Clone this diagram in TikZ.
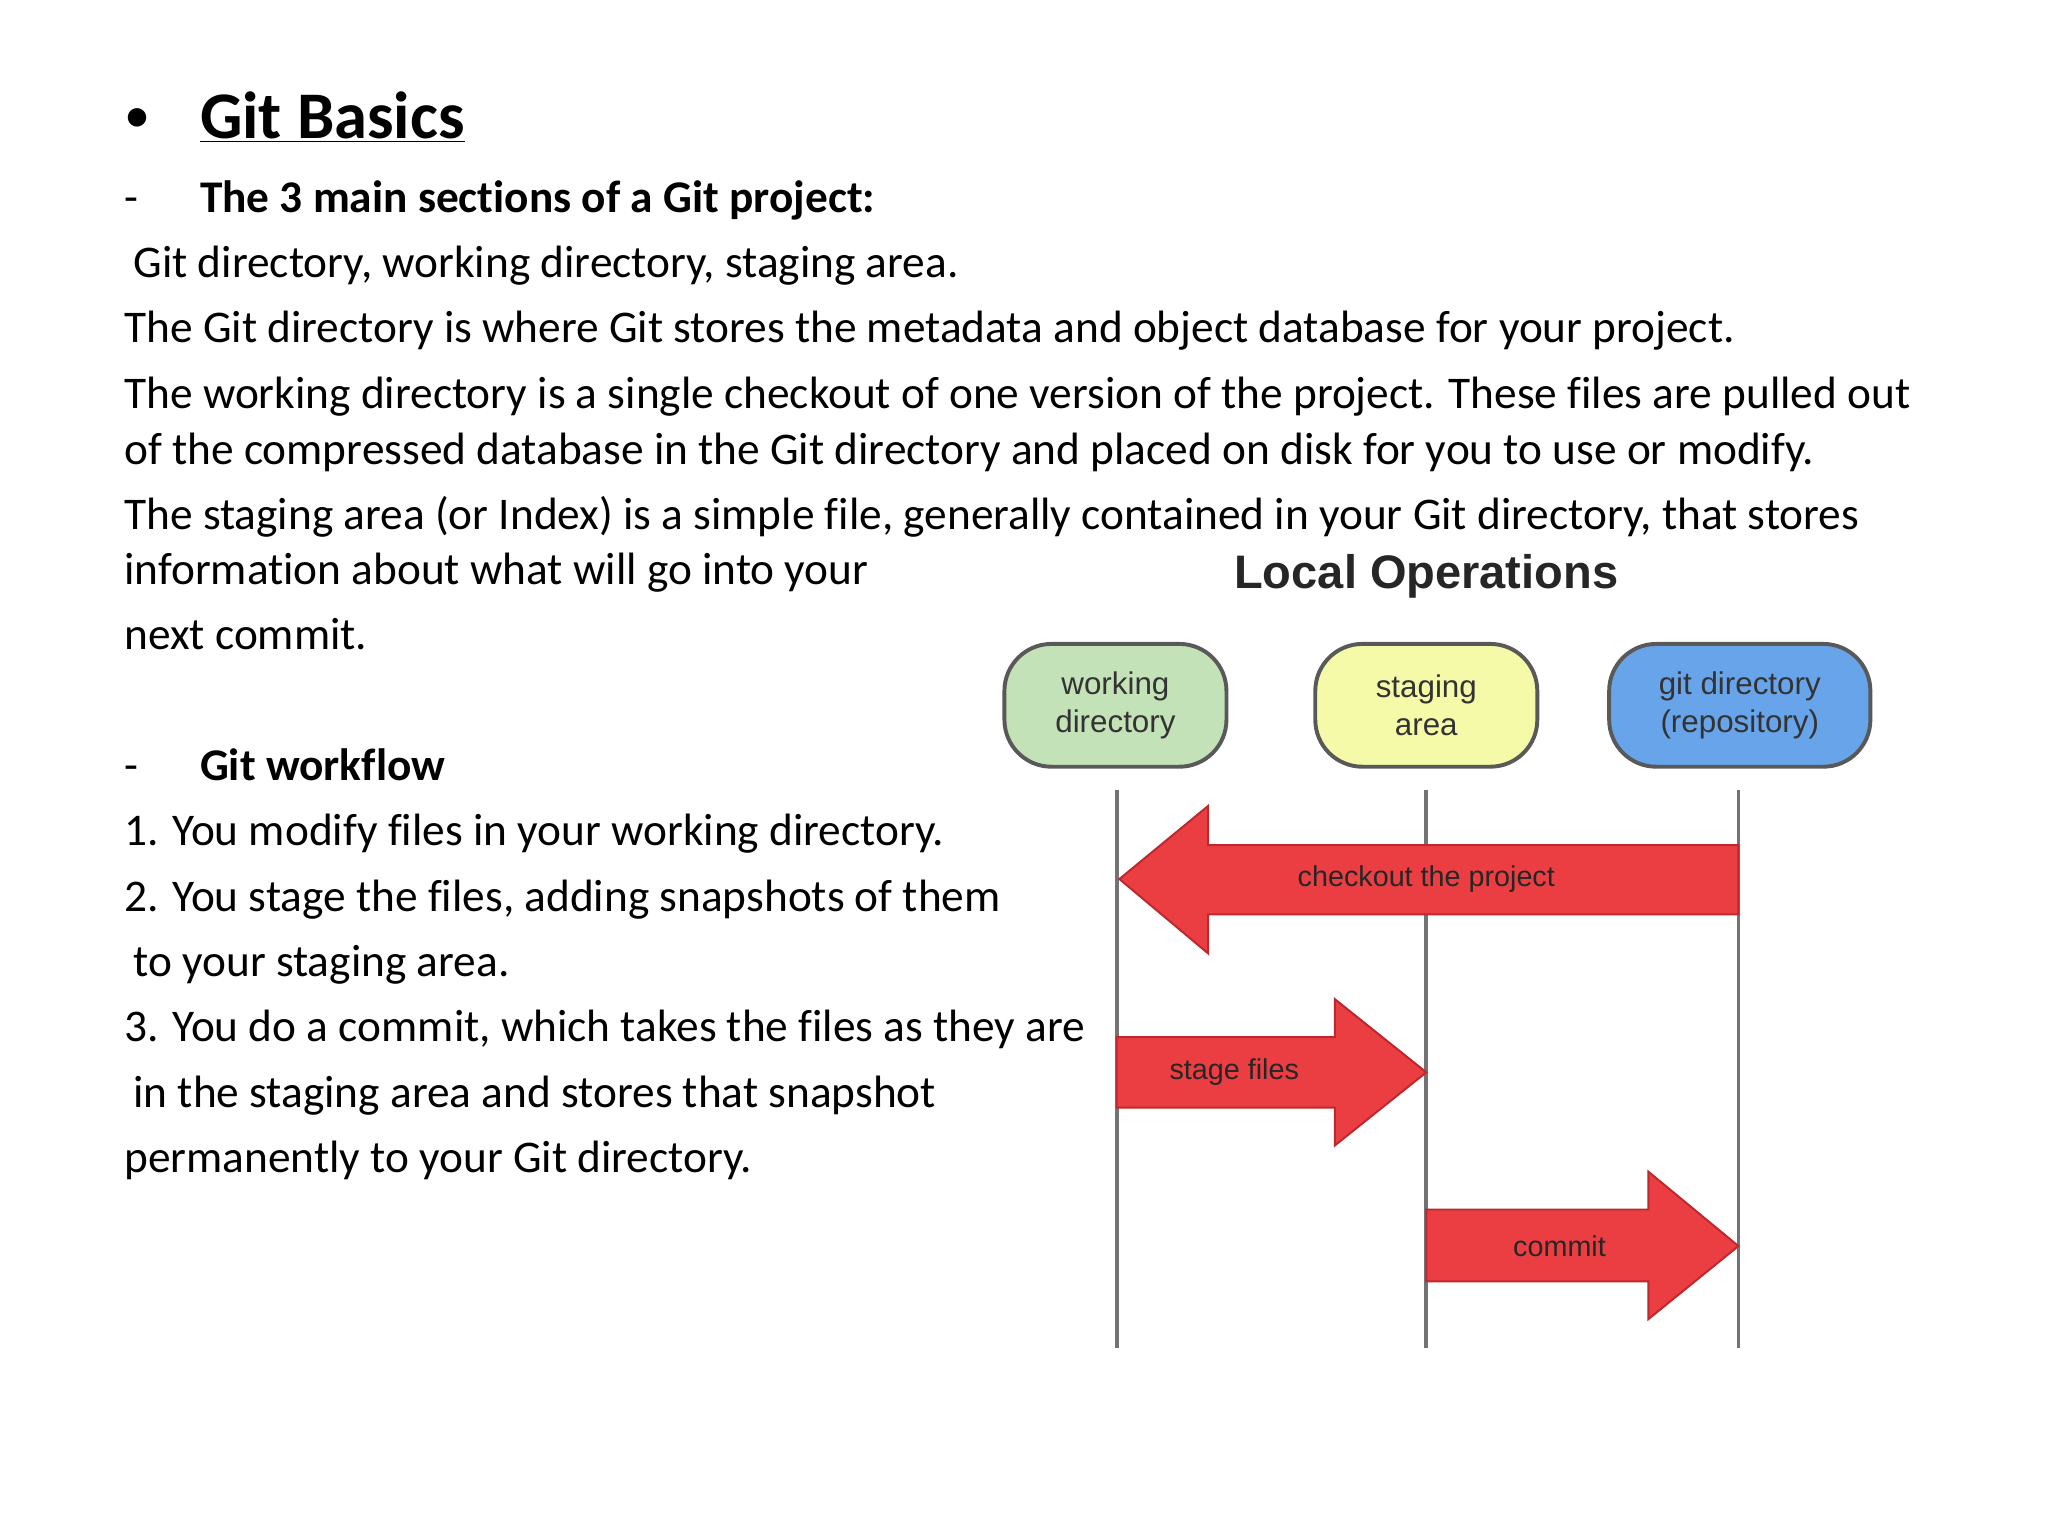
\documentclass[tikz,border=0pt]{standalone}
\usepackage{fontspec}
\setmainfont[Ligatures=NoCommon]{Carlito}
\newfontfamily\hel{Liberation Sans}
\begin{document}
\begin{tikzpicture}[x=1pt,y=-1pt,
  body/.style={anchor=west,inner sep=0pt,font=\fontsize{34.7}{38}\selectfont,execute at begin node=\strut},
  bbody/.style={anchor=west,inner sep=0pt,font=\bfseries\fontsize{34.7}{38}\selectfont,execute at begin node=\strut},
  box/.style={draw=black!65,line width=3pt,rounded corners=36pt,minimum height=94pt,align=center,font=\hel\fontsize{24}{29}\selectfont,text=black!80},
  vline/.style={draw=black!55,line width=3pt},
  arr/.style={fill={rgb,255:red,234;green,62;blue,66},draw={rgb,255:red,190;green,40;blue,45},line width=1.5pt},
  albl/.style={font=\hel\fontsize{22}{25}\selectfont,text=black!85}]
\useasboundingbox (0,0) rectangle (1568,1176);
\node[body,font=\fontsize{40}{44}\selectfont] (bul) at (95,93) {•};
\node[body,font=\bfseries\fontsize{51}{55}\selectfont] (title) at (153,95) {\underline{Git Basics}};
\node[body] (d1) at (95,155) {-};
\node[bbody] (h1) at (153,155) {The 3 main sections of a Git project:};
\node[body] (l1) at (102,205) {Git directory, working directory, staging area.};
\node[body] (l2) at (95,255) {The Git directory is where Git stores the metadata and object database for your project.};
\node[body] (l3) at (95,305) {The working directory is a single checkout of one version of the project. These files are pulled out};
\node[body] (l4) at (95,348) {of the compressed database in the Git directory and placed on disk for you to use or modify.};
\node[body] (l5) at (95,398) {The staging area (or Index) is a simple file, generally contained in your Git directory, that stores};
\node[body] (l6) at (95,440) {information about what will go into your};
\node[body] (l7) at (95,490) {next commit.};
\node[body] (d2) at (95,590) {-};
\node[bbody] (h2) at (153,590) {Git workflow};
\node[body] (w1) at (95,640) {1. You modify files in your working directory.};
\node[body] (w2) at (95,690) {2. You stage the files, adding snapshots of them};
\node[body] (w3) at (102,740) {to your staging area.};
\node[body] (w4) at (95,790) {3. You do a commit, which takes the files as they are};
\node[body] (w5) at (102,840) {in the staging area and stores that snapshot};
\node[body] (w6) at (95,890) {permanently to your Git directory.};
% diagram
\node[font=\hel\bfseries\fontsize{36}{40}\selectfont,text=black!85] (lo) at (1092,441) {Local Operations};
\draw[vline] (855,605) -- (855,1032);
\draw[vline] (1092,605) -- (1092,1032);
\draw[vline] (1331,605) -- (1331,1032);
\node[box,minimum width=170pt,fill={rgb,255:red,196;green,226;blue,183}] (wd) at (854,540) {working\\directory};
\node[box,minimum width=170pt,fill={rgb,255:red,244;green,250;blue,168}] (sa) at (1092,540) {staging\\area};
\node[box,minimum width=200pt,fill={rgb,255:red,104;green,164;blue,234}] (gd) at (1332,540) {git directory\\(repository)};
\draw[arr] (1331,647) -- (925,647) -- (925,617) -- (857,673) -- (925,730) -- (925,700) -- (1331,700) -- cycle;
\node[albl] (co) at (1092,673) {checkout the project};
\draw[arr] (855,794) -- (1022,794) -- (1022,765) -- (1092,821) -- (1022,877) -- (1022,848) -- (855,848) -- cycle;
\node[albl] (sf) at (945,821) {stage files};
\draw[arr] (1092,926) -- (1262,926) -- (1262,897) -- (1331,954) -- (1262,1010) -- (1262,981) -- (1092,981) -- cycle;
\node[albl] (cm) at (1194,954) {commit};
\end{tikzpicture}
\end{document}
